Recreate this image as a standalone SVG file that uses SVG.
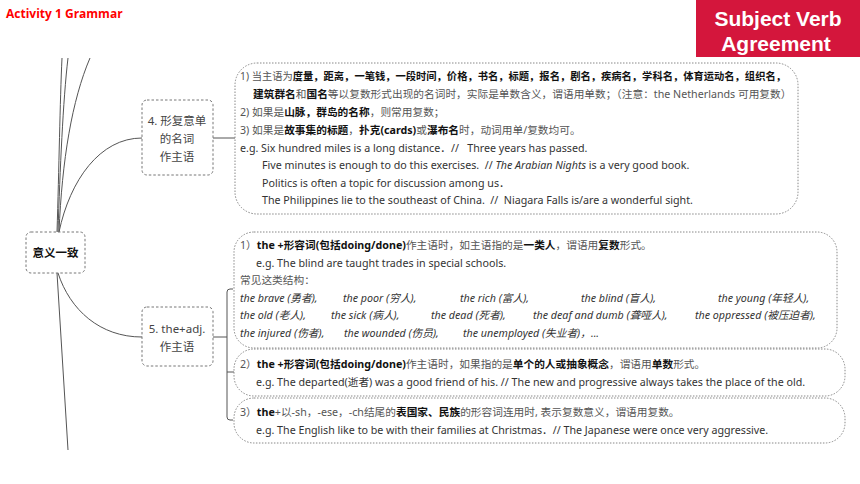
<svg xmlns="http://www.w3.org/2000/svg" width="860" height="484" viewBox="0 0 860 484">
<style>
text{font-family:"Noto Sans","Noto Sans CJK SC",sans-serif;font-size:10.7px;fill:#333}
.b{font-weight:bold;fill:#111}
.g{fill:#555}
.i{font-style:italic}
.node{fill:#fff;stroke:#777;stroke-width:1;stroke-dasharray:2.5,2}
.box{fill:#fff;stroke:#888;stroke-width:1;stroke-dasharray:1.5,1.5}
.ln{fill:none;stroke:#555;stroke-width:1}
.nt{font-size:11.5px;fill:#444;text-anchor:middle}
.hd{font-family:"Liberation Sans",Arial,sans-serif;font-size:21px;font-weight:bold;fill:#fff;text-anchor:middle}
</style>
<rect width="860" height="484" fill="#fff"/>
<text x="6" y="18" style="font-size:12px;font-weight:bold;fill:#ff0000;font-family:'Open Sans','Noto Sans',sans-serif">Activity 1 Grammar</text>
<g id="header">
<rect x="696" y="0" width="164" height="57" fill="#d4163c"/>
<text class="hd" x="778" y="26">Subject Verb</text>
<text class="hd" x="776" y="51">Agreement</text>
</g>
<g id="connectors">
<path class="ln" d="M57,232 C59,170 60,100 62,58"/>
<path class="ln" d="M58,232 C60,170 63,100 68,58"/>
<path class="ln" d="M59,232 C62,160 72,100 90,58"/>
<path class="ln" d="M59,232 C70,180 100,138 142,138"/>
<path class="ln" d="M58,273 C70,310 100,337 142,337"/>
<path class="ln" d="M57,273 L68,450"/>
<path class="ln" d="M213,138 L235,138"/>
<path class="ln" d="M213,337 L227,337"/>
<path class="ln" d="M233,289 L230,289 Q227,289 227,292 L227,417 Q227,420 230,420 L233,420"/>
<path class="ln" d="M227,372 L234,372"/>
</g>
<g id="root">
<rect class="node" x="26" y="232" width="59" height="41" rx="5"/>
<text x="55.5" y="257" class="b" style="text-anchor:middle;font-size:11.5px">意义一致</text>
</g>
<g id="n4">
<rect class="node" x="142" y="100" width="71" height="75" rx="5"/>
<text class="nt" x="177" y="125">4. 形复意单</text>
<text class="nt" x="177" y="143">的名词</text>
<text class="nt" x="177" y="161">作主语</text>
</g>
<g id="n5">
<rect class="node" x="142" y="307" width="71" height="59" rx="5"/>
<text class="nt" x="177" y="333">5. the+adj.</text>
<text class="nt" x="177" y="351">作主语</text>
</g>
<g id="d4">
<rect class="box" x="235" y="63" width="563" height="151" rx="22"/>
<text x="240" y="80" textLength="546" lengthAdjust="spacingAndGlyphs"><tspan class="g">1) 当主语为</tspan><tspan class="b">度量，距离，一笔钱，一段时间，价格，书名，标题，报名，剧名，疾病名，学科名，体育运动名，组织名，</tspan></text>
<text x="253" y="98"><tspan class="b">建筑群名</tspan><tspan class="g">和</tspan><tspan class="b">国名</tspan><tspan class="g">等以复数形式出现的名词时，实际是单数含义，谓语用单数；（注意：the Netherlands 可用复数）</tspan></text>
<text x="240" y="116"><tspan class="g">2) 如果是</tspan><tspan class="b">山脉，群岛的名称</tspan><tspan class="g">，则常用复数；</tspan></text>
<text x="240" y="134"><tspan class="g">3) 如果是</tspan><tspan class="b">故事集的标题</tspan><tspan class="g">，</tspan><tspan class="b">扑克(cards)</tspan><tspan class="g">或</tspan><tspan class="b">瀑布名</tspan><tspan class="g">时，动词用单/复数均可。</tspan></text>
<text x="240" y="152" xml:space="preserve">e.g. Six hundred miles is a long distance．//   Three years has passed.</text>
<text x="262" y="169" xml:space="preserve">Five minutes is enough to do this exercises.  // <tspan class="i">The Arabian Nights</tspan> is a very good book.</text>
<text x="262" y="187">Politics is often a topic for discussion among us．</text>
<text x="262" y="204" xml:space="preserve">The Philippines lie to the southeast of China.  //  Niagara Falls is/are a wonderful sight.</text>
</g>
<g id="d5a">
<rect class="box" x="234" y="232" width="603" height="116" rx="20"/>
<text x="240" y="249"><tspan class="g">1）</tspan><tspan class="b">the +形容词(包括doing/done)</tspan><tspan class="g">作主语时，如主语指的是</tspan><tspan class="b">一类人</tspan><tspan class="g">，谓语用</tspan><tspan class="b">复数</tspan><tspan class="g">形式。</tspan></text>
<text x="256" y="267">e.g. The blind are taught trades in special schools.</text>
<text x="240" y="284" class="g">常见这类结构：</text>
<text x="240" y="302" class="i">the brave (勇者),</text>
<text x="343" y="302" class="i">the poor (穷人),</text>
<text x="460" y="302" class="i">the rich (富人),</text>
<text x="581" y="302" class="i">the blind (盲人),</text>
<text x="718" y="302" class="i">the young (年轻人),</text>
<text x="240" y="319" class="i">the old (老人),</text>
<text x="331" y="319" class="i">the sick (病人),</text>
<text x="431" y="319" class="i">the dead (死者),</text>
<text x="533" y="319" class="i">the deaf and dumb (聋哑人),</text>
<text x="695" y="319" class="i">the oppressed (被压迫者),</text>
<text x="240" y="337" class="i">the injured (伤者),</text>
<text x="344" y="337" class="i">the wounded (伤员),</text>
<text x="463" y="337" class="i">the unemployed (失业者)，...</text>
</g>
<g id="d5b">
<rect class="box" x="234" y="349" width="611" height="47" rx="20"/>
<text x="240" y="368"><tspan class="g">2）</tspan><tspan class="b">the +形容词(包括doing/done)</tspan><tspan class="g">作主语时，如果指的是</tspan><tspan class="b">单个的人或抽象概念</tspan><tspan class="g">，谓语用</tspan><tspan class="b">单数</tspan><tspan class="g">形式。</tspan></text>
<text x="256" y="386">e.g. The departed(逝者) was a good friend of his. // The new and progressive always takes the place of the old.</text>
</g>
<g id="d5c">
<rect class="box" x="234" y="398" width="611" height="45" rx="20"/>
<text x="240" y="416"><tspan class="g">3）</tspan><tspan class="b">the</tspan><tspan class="g">+以-sh，-ese，-ch结尾的</tspan><tspan class="b">表国家、民族</tspan><tspan class="g">的形容词连用时, 表示复数意义，谓语用复数。</tspan></text>
<text x="256" y="434">e.g. The English like to be with their families at Christmas．// The Japanese were once very aggressive.</text>
</g>
</svg>
